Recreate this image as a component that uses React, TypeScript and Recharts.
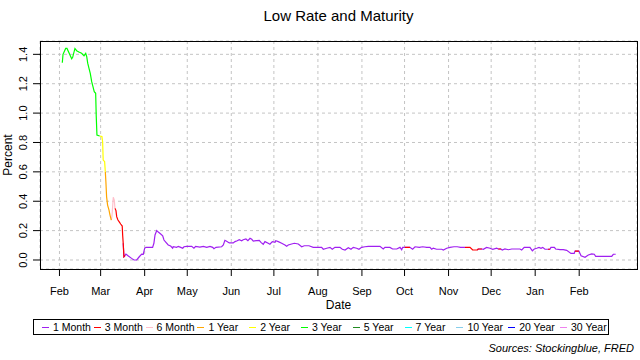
import React from 'react';
import { LineChart, Line, XAxis, YAxis, CartesianGrid } from 'recharts';

const FONT = '"Liberation Sans", Arial, sans-serif';

const maturities = ['1 Month', '3 Month', '6 Month', '1 Year', '2 Year', '3 Year', '5 Year', '7 Year', '10 Year', '20 Year', '30 Year'];
const maturityColors = ['#A020F0', '#FF0000', '#FFC0CB', '#FFA500', '#FFFF00', '#00FF00', '#228B22', '#00FFFF', '#87CEEB', '#0000FF', '#EE82EE'];

// days since 1 Feb 2020
const days = [
  2.0, 2.5, 4.4, 5.3, 6.7, 8.6, 9.3, 10.9, 12.1, 13.7, 15.6, 17.3, 18.5, 19.2, 19.9, 20.8, 21.7, 22.7, 23.6, 24.5,
  25.5, 25.9, 26.4, 28.3, 29.9, 30.4, 30.8, 31.8, 32.3, 32.7, 33.2, 33.9, 34.9, 35.6, 36.5, 37.0, 37.9, 38.6, 39.1, 39.8,
  40.3, 41.2, 42.1, 43.1, 44.2, 44.5, 44.9, 45.4, 46.1, 46.8, 48.5, 50.8, 52.5, 54.4, 56.2, 57.9, 59.0, 60.0, 60.9, 63.7,
  65.6, 66.5, 67.3, 68.5, 69.6, 71.3, 72.7, 73.6, 75.0, 76.6, 78.3, 79.7, 80.1, 82.5, 83.7, 85.4, 86.8, 87.7, 89.6, 93.1,
  94.7, 95.9, 98.9, 101.3, 103.7, 106.0, 107.9, 108.8, 110.2, 114.2, 115.4, 116.5, 117.7, 119.6, 122.4, 123.6, 125.2, 126.6, 128.3, 129.4,
  131.3, 132.7, 134.2, 135.4, 136.5, 140.7, 141.9, 143.5, 144.7, 147.0, 148.2, 149.9, 151.8, 152.3, 154.1, 156.5, 158.8, 160.0, 161.1, 163.5,
  165.4, 168.2, 170.6, 172.4, 175.7, 178.7, 184.6, 185.8, 188.2, 190.5, 192.1, 194.0, 197.5, 199.2, 201.1, 203.4, 205.3, 206.9, 209.3, 210.9,
  212.8, 215.1, 217.5, 225.7, 228.0, 229.2, 232.7, 234.6, 237.5, 239.8, 241.0, 241.7, 243.3, 246.8, 248.7, 250.4, 253.4, 255.8, 258.6, 260.9,
  262.1, 263.2, 265.6, 269.2, 270.3, 272.7, 275.0, 277.8, 280.1, 282.5, 285.6, 289.1, 291.0, 294.2, 294.9, 297.5, 298.5, 300.8, 303.2, 305.1,
  307.9, 309.0, 310.9, 311.8, 313.7, 316.1, 318.5, 324.3, 325.5, 327.3, 331.3, 333.0, 334.4, 336.1, 337.7, 339.1, 340.3, 341.9, 344.0, 345.4,
  346.1, 348.5, 349.4, 352.5, 354.8, 357.2, 360.2, 362.5, 363.0, 365.8, 367.3, 370.1, 372.4, 374.8, 376.6, 377.6, 388.9, 390.0, 391.7,
];

// lowest yield across maturities (percent)
const lowRate = [
  1.343, 1.40, 1.44, 1.44, 1.41, 1.37, 1.38, 1.44, 1.425, 1.416, 1.407, 1.39, 1.407, 1.384, 1.34, 1.305, 1.27, 1.214, 1.18, 1.146,
  1.135, 0.98, 0.851, 0.844, 0.84, 0.805, 0.68, 0.67, 0.60, 0.533, 0.43, 0.374, 0.34, 0.306, 0.272, 0.30, 0.427, 0.408, 0.352, 0.336,
  0.295, 0.272, 0.26, 0.245, 0.231, 0.17, 0.114, 0.022, 0.03, 0.04, 0.027, 0.011, 0.0, 0.0, 0.022, 0.04, 0.039, 0.08, 0.086, 0.086,
  0.086, 0.114, 0.17, 0.20, 0.19, 0.177, 0.165, 0.136, 0.12, 0.102, 0.095, 0.08, 0.09, 0.086, 0.093, 0.086, 0.08, 0.09, 0.093, 0.093,
  0.08, 0.093, 0.088, 0.093, 0.086, 0.093, 0.086, 0.077, 0.086, 0.09, 0.102, 0.134, 0.127, 0.116, 0.116, 0.125, 0.131, 0.138, 0.131, 0.138,
  0.143, 0.131, 0.148, 0.141, 0.129, 0.134, 0.12, 0.107, 0.125, 0.114, 0.107, 0.125, 0.12, 0.131, 0.125, 0.114, 0.102, 0.093, 0.102, 0.109,
  0.114, 0.109, 0.09, 0.097, 0.097, 0.086, 0.086, 0.073, 0.08, 0.086, 0.073, 0.086, 0.086, 0.073, 0.068, 0.084, 0.073, 0.086, 0.08, 0.073,
  0.086, 0.09, 0.093, 0.093, 0.075, 0.086, 0.086, 0.075, 0.075, 0.086, 0.07, 0.086, 0.086, 0.086, 0.073, 0.09, 0.086, 0.09, 0.086, 0.086,
  0.073, 0.08, 0.073, 0.073, 0.068, 0.08, 0.086, 0.09, 0.09, 0.086, 0.086, 0.086, 0.068, 0.068, 0.075, 0.075, 0.073, 0.086, 0.08, 0.073,
  0.08, 0.075, 0.075, 0.068, 0.075, 0.07, 0.075, 0.075, 0.068, 0.086, 0.086, 0.063, 0.075, 0.08, 0.086, 0.08, 0.086, 0.073, 0.073, 0.073,
  0.086, 0.086, 0.075, 0.07, 0.07, 0.066, 0.045, 0.045, 0.061, 0.061, 0.029, 0.018, 0.034, 0.041, 0.039, 0.025, 0.025, 0.039, 0.039,
];

// which maturity was lowest: [maturity index, number of points]
const lowestRuns: [number, number][] = [
  [5, 24], [4, 5], [3, 6], [2, 4], [1, 8], [0, 1], [1, 1], [0, 104], [1, 1], [0, 17],
  [1, 3], [0, 1], [1, 1], [0, 6], [1, 1], [0, 16], [1, 1], [0, 9], [1, 1], [0, 9],
];

const monthTicks = [0, 29, 60, 90, 121, 151, 182, 213, 243, 274, 304, 335, 366];
const monthLabels = ['Feb', 'Mar', 'Apr', 'May', 'Jun', 'Jul', 'Aug', 'Sep', 'Oct', 'Nov', 'Dec', 'Jan', 'Feb'];
const percentTicks = [0, 0.2, 0.4, 0.6, 0.8, 1.0, 1.2, 1.4];

const lowest = lowestRuns.flatMap(([m, n]) => Array(n).fill(m) as number[]);

// each segment i -> i+1 takes the colour of the maturity at i+1
const rows = days.map((d, i) => {
  const row: Record<string, number> = { day: d };
  row['m' + lowest[i]] = lowRate[i];
  if (i + 1 < days.length && lowest[i + 1] !== lowest[i]) row['m' + lowest[i + 1]] = lowRate[i];
  return row;
});

const YTick = (props: any) => {
  const { y, payload } = props;
  return (
    <text x={27.5} y={y} transform={`rotate(-90, 27.5, ${y})`} textAnchor="middle" fontSize={11} fontFamily={FONT} fill="#000">
      {payload.value.toFixed(1)}
    </text>
  );
};

export default function App() {
  return (
    <div style={{ position: 'absolute', left: 0, top: 0, width: 640, height: 360, background: '#fff', fontFamily: FONT, color: '#000' }}>
      <div style={{ position: 'absolute', left: 40, width: 597, top: 7, textAlign: 'center', fontSize: 15 }}>Low Rate and Maturity</div>
      <LineChart width={640} height={360} data={rows} margin={{ top: 41, right: 3, bottom: 61, left: 0 }}>
        <CartesianGrid stroke="#c4c4c4" strokeDasharray="3 3" />
        <XAxis
          dataKey="day"
          type="number"
          domain={[-13.7, 406.7]}
          allowDataOverflow
          ticks={monthTicks}
          tickFormatter={(v) => monthLabels[monthTicks.indexOf(v)]}
          height={30}
          axisLine={false}
          tickSize={7}
          tickMargin={11}
          tick={{ fill: '#000', fontSize: 11, fontFamily: FONT }}
          tickLine={{ stroke: '#000' }}
        />
        <YAxis
          type="number"
          domain={[-0.0613, 1.4908]}
          allowDataOverflow
          ticks={percentTicks}
          width={40}
          axisLine={false}
          tickSize={7}
          tickLine={{ stroke: '#000' }}
          tick={<YTick />}
        />
        {maturities.map((m, i) => (
          <Line
            key={m}
            dataKey={'m' + i}
            name={m}
            stroke={maturityColors[i]}
            strokeWidth={1.2}
            dot={false}
            type="linear"
            isAnimationActive={false}
          />
        ))}
      </LineChart>
      <div style={{ position: 'absolute', left: 40, top: 41, width: 598, height: 229, border: '1px solid #000', boxSizing: 'border-box', pointerEvents: 'none' }} />
      <div style={{ position: 'absolute', left: 0, top: 155, width: 16, height: 0 }}>
        <div style={{ position: 'absolute', left: 8, top: 0, transform: 'translate(-50%, -50%) rotate(-90deg)', fontSize: 12, whiteSpace: 'nowrap' }}>Percent</div>
      </div>
      <div style={{ position: 'absolute', left: 40, width: 597, top: 298, textAlign: 'center', fontSize: 12 }}>Date</div>
      <div style={{ position: 'absolute', left: 33, top: 319, width: 576, height: 16, border: '1px solid #000', boxSizing: 'border-box' }}>
        {maturities.map((m, i) => (
          <div key={m} style={{ position: 'absolute', left: 8 + i * 51.8, top: 0, height: 14, display: 'flex', alignItems: 'center', fontSize: 10.5, whiteSpace: 'nowrap' }}>
            <span style={{ display: 'inline-block', width: 7, height: 1, background: maturityColors[i], marginRight: 4 }} />
            {m}
          </div>
        ))}
      </div>
      <div style={{ position: 'absolute', right: 6, top: 342, fontSize: 11, fontStyle: 'italic' }}>Sources: Stockingblue, FRED</div>
    </div>
  );
}
